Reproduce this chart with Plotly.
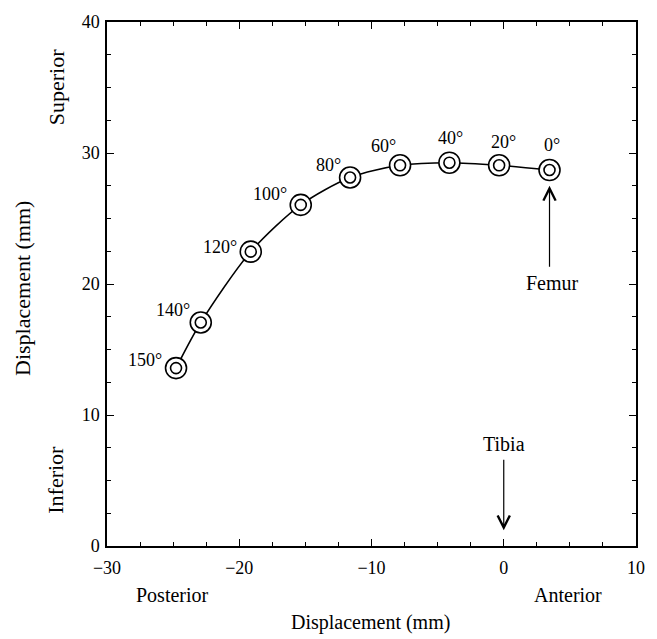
import plotly.graph_objects as go

angles = ["0°", "20°", "40°", "60°", "80°", "100°", "120°", "140°", "150°"]
x_disp = [3.46, -0.35, -4.11, -7.84, -11.62, -15.35, -19.13, -22.91, -24.78]
y_disp = [28.7, 29.06, 29.26, 29.06, 28.13, 26.04, 22.47, 17.06, 13.58]
# label offsets (px) relative to each marker
lab_dx = [2, 4, 1, -17, -22, -31, -31, -28, -31]
lab_dy = [25, 23, 25, 19, 13, 11, 5, 13, 8]

xticks = [-30, -20, -10, 0, 10]
yticks = [0, 10, 20, 30, 40]

FONT = "Liberation Serif"
HS = 20   # horizontal text size
VS = 22   # rotated text size
fig = go.Figure()
fig.add_trace(go.Scatter(x=x_disp, y=y_disp, mode="lines",
                         line=dict(color="black", width=1.5, shape="spline", smoothing=0.8),
                         hoverinfo="skip", showlegend=False))
fig.add_trace(go.Scatter(x=x_disp, y=y_disp, mode="markers",
                         marker=dict(symbol="circle", size=21, color="white",
                                     line=dict(color="black", width=1.6)),
                         showlegend=False))
fig.add_trace(go.Scatter(x=x_disp, y=y_disp, mode="markers",
                         marker=dict(symbol="circle-open", size=11, color="black",
                                     line=dict(color="black", width=1.6)),
                         showlegend=False))

ann = []
for a, x, y, dx, dy in zip(angles, x_disp, y_disp, lab_dx, lab_dy):
    ann.append(dict(x=x, y=y, text=a, showarrow=False, xshift=dx, yshift=dy,
                    font=dict(family=FONT, size=18, color="black")))

# Femur arrow
ann.append(dict(x=x_disp[0], y=27.5, ax=x_disp[0], ay=21.2, axref="x", ayref="y",
                xref="x", yref="y", text="", showarrow=True, arrowhead=5,
                arrowsize=2.0, arrowwidth=1.2, arrowcolor="black"))
ann.append(dict(x=x_disp[0], y=20.1, text="Femur", showarrow=False, xshift=3,
                font=dict(family=FONT, size=HS, color="black")))
# Tibia arrow
ann.append(dict(x=0, y=1.2, ax=0, ay=6.7, axref="x", ayref="y",
                xref="x", yref="y", text="", showarrow=True, arrowhead=5,
                arrowsize=2.0, arrowwidth=1.2, arrowcolor="black"))
ann.append(dict(x=0, y=7.8, text="Tibia", showarrow=False,
                font=dict(family=FONT, size=HS, color="black")))

# direction labels & axis titles
ann += [
    dict(text="Superior", x=56, y=82, xref="paper", yref="paper", showarrow=False, textangle=-90,
         font=dict(family=FONT, size=VS, color="black")),
    dict(text="Inferior", x=56, y=479, xref="paper", yref="paper", showarrow=False, textangle=-90,
         font=dict(family=FONT, size=VS, color="black")),
    dict(text="Posterior", x=172, y=596, xref="paper", yref="paper", showarrow=False,
         font=dict(family=FONT, size=HS, color="black")),
    dict(text="Anterior", x=568, y=596, xref="paper", yref="paper", showarrow=False,
         font=dict(family=FONT, size=HS, color="black")),
    dict(text="Displacement (mm)", x=370, y=623, xref="paper", yref="paper", showarrow=False,
         font=dict(family=FONT, size=HS, color="black")),
    dict(text="Displacement (mm)", x=23, y=286, xref="paper", yref="paper", showarrow=False,
         textangle=-90, font=dict(family=FONT, size=VS, color="black")),
]
# convert pixel-positioned paper annotations
L, R, T, B = 107, 21, 16, 93
W, H = 657, 639
pw, ph = W - L - R, H - T - B
for a in ann:
    if a.get("xref") == "paper":
        a["x"] = (a["x"] - L) / pw
        a["y"] = 1 - (a["y"] - T) / ph
        a["xanchor"] = "center"
        a["yanchor"] = "middle"

axis_common = dict(showgrid=False, zeroline=False, showline=True, linecolor="black", linewidth=1.5,
                   mirror="ticks", ticks="inside", ticklen=7, tickwidth=1.3, tickcolor="black",
                   tickfont=dict(family=FONT, size=18, color="black"),
                   minor=dict(ticks="inside", ticklen=4, tickwidth=1.2, tickcolor="black", dtick=2.5))
fig.update_xaxes(range=[-30, 10], tickvals=xticks, ticklabelstandoff=5, **axis_common)
fig.update_yaxes(range=[0, 40], tickvals=yticks, ticklabelstandoff=2, **axis_common)

fig.update_layout(width=W, height=H, margin=dict(l=L, r=R, t=T, b=B),
                  plot_bgcolor="white", paper_bgcolor="white", annotations=ann,
                  showlegend=False)
fig.write_html("out.html")
